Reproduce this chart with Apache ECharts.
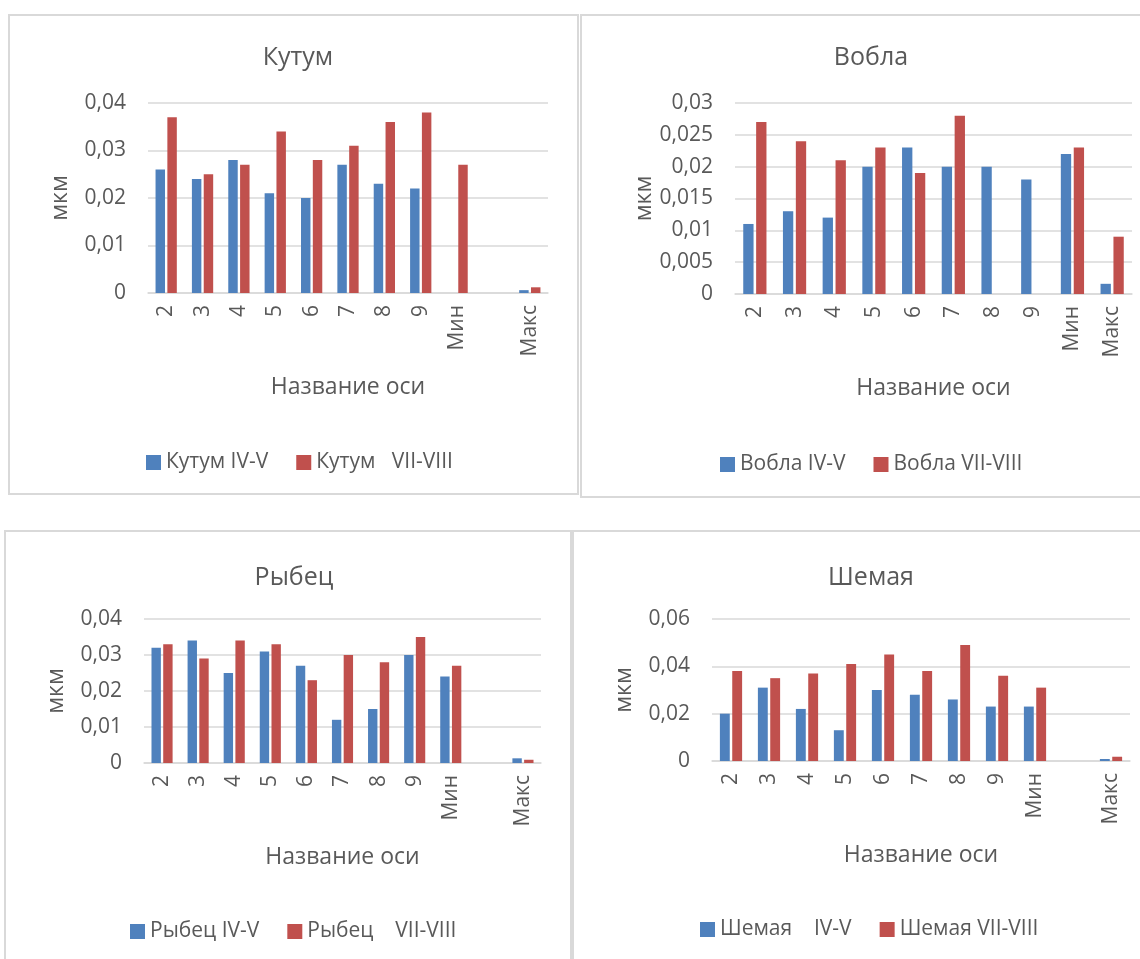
<!DOCTYPE html>
<html>
<head>
<meta charset="utf-8">
<script src="https://cdn.jsdelivr.net/npm/echarts@6/dist/echarts.min.js"></script>
<style>
  body { margin: 0; background: #fff; }
  #wrap { position: relative; width: 1140px; height: 959px; overflow: hidden; }
  .box { position: absolute; box-sizing: border-box; border: 2px solid #d9d9d9; }
  #chart { position: absolute; left: 0; top: 0; width: 1140px; height: 959px; }
</style>
</head>
<body>
<div id="wrap">
  <div class="box" style="left:8px;top:14px;width:571px;height:481px;"></div>
  <div class="box" style="left:580px;top:14px;width:570px;height:484px;"></div>
  <div class="box" style="left:4px;top:530px;width:568px;height:440px;"></div>
  <div class="box" style="left:572px;top:530px;width:580px;height:440px;"></div>
  <div id="chart"></div>
</div>
<script>
  // categories
  let cats = ['2', '3', '4', '5', '6', '7', '8', '9', 'Мин', '', 'Макс'];
  let catsVobla = ['2', '3', '4', '5', '6', '7', '8', '9', 'Мин', 'Макс'];

  // values, мкм
  let kutumIV = [0.026, 0.024, 0.028, 0.021, 0.020, 0.027, 0.023, 0.022, null, null, 0.0006];
  let kutumVII = [0.037, 0.025, 0.027, 0.034, 0.028, 0.031, 0.036, 0.038, 0.027, null, 0.0012];
  let voblaIV = [0.011, 0.013, 0.012, 0.020, 0.023, 0.020, 0.020, 0.018, 0.022, 0.0016];
  let voblaVII = [0.027, 0.024, 0.021, 0.023, 0.019, 0.028, null, null, 0.023, 0.009];
  let rybecIV = [0.032, 0.034, 0.025, 0.031, 0.027, 0.012, 0.015, 0.030, 0.024, null, 0.0013];
  let rybecVII = [0.033, 0.029, 0.034, 0.033, 0.023, 0.030, 0.028, 0.035, 0.027, null, 0.0009];
  let shemayaIV = [0.020, 0.031, 0.022, 0.013, 0.030, 0.028, 0.026, 0.023, 0.023, null, 0.00085];
  let shemayaVII = [0.038, 0.035, 0.037, 0.041, 0.045, 0.038, 0.049, 0.036, 0.031, null, 0.0018];

  let font = '"Open Sans", "Noto Sans", sans-serif';
  let txt = '#595959';
  let grey = '#d9d9d9';
  let blue = '#4f81bd';
  let red = '#c0504d';

  // one panel per fish
  let panels = [
    { title: 'Кутум', cats: cats, a: kutumIV, b: kutumVII, na: 'Кутум IV-V', nb: 'Кутум   VII-VIII',
      grid: { left: 148, top: 103, width: 400, height: 190 }, max: 0.04, step: 0.01,
      titleX: 293, titleY: 53, legX: 141, legY: 447 },
    { title: 'Вобла', cats: catsVobla, a: voblaIV, b: voblaVII, na: 'Вобла IV-V', nb: 'Вобла VII-VIII',
      grid: { left: 735, top: 103, width: 397, height: 191 }, max: 0.03, step: 0.005,
      titleX: 866, titleY: 53, legX: 715, legY: 449 },
    { title: 'Рыбец', cats: cats, a: rybecIV, b: rybecVII, na: 'Рыбец IV-V', nb: 'Рыбец    VII-VIII',
      grid: { left: 144, top: 619, width: 397, height: 144 }, max: 0.04, step: 0.01,
      titleX: 289, titleY: 573, legX: 125, legY: 916 },
    { title: 'Шемая', cats: cats, a: shemayaIV, b: shemayaVII, na: 'Шемая    IV-V', nb: 'Шемая VII-VIII',
      grid: { left: 712, top: 619, width: 418, height: 142 }, max: 0.06, step: 0.02,
      titleX: 866, titleY: 573, legX: 695, legY: 914 }
  ];

  let fmt = v => String(+v.toFixed(4)).replace('.', ',');

  let option = {
    animation: false,
    textStyle: { fontFamily: font },
    title: [], legend: [], grid: [], xAxis: [], yAxis: [], series: []
  };

  panels.forEach((p, i) => {
    option.title.push({
      text: p.title, left: p.titleX, top: p.titleY,
      textAlign: 'center', textVerticalAlign: 'middle',
      textStyle: { color: txt, fontSize: 25, fontWeight: 'normal', fontFamily: font }
    });
    option.legend.push({
      data: [p.na, p.nb], left: p.legX, top: p.legY,
      itemWidth: 15, itemHeight: 15, itemGap: 28, icon: 'rect',
      textStyle: { color: txt, fontSize: 21, fontFamily: font }
    });
    option.grid.push(p.grid);
    option.xAxis.push({
      type: 'category', gridIndex: i, data: p.cats,
      name: 'Название оси', nameLocation: 'middle', nameGap: 83,
      nameTextStyle: { color: txt, fontSize: 23, fontFamily: font },
      axisTick: { show: false },
      axisLine: { lineStyle: { color: grey, width: 1.5 } },
      axisLabel: { rotate: 90, interval: 0, margin: 12, color: txt, fontSize: 21, fontFamily: font }
    });
    option.yAxis.push({
      type: 'value', gridIndex: i, min: 0, max: p.max, interval: p.step,
      name: 'мкм', nameLocation: 'middle', nameGap: 76,
      nameTextStyle: { color: txt, fontSize: 23, fontFamily: font },
      axisLine: { show: false }, axisTick: { show: false },
      splitLine: { lineStyle: { color: grey, width: 1.5 } },
      axisLabel: { margin: 22, color: txt, fontSize: 21, fontFamily: font, formatter: fmt }
    });
    option.series.push({
      name: p.na, type: 'bar', xAxisIndex: i, yAxisIndex: i, data: p.a,
      barWidth: '26%', barGap: '25%',
      itemStyle: { color: blue }
    });
    option.series.push({
      name: p.nb, type: 'bar', xAxisIndex: i, yAxisIndex: i, data: p.b,
      barWidth: '26%', barGap: '25%',
      itemStyle: { color: red }
    });
  });

  let chart = echarts.init(document.getElementById('chart'));
  chart.setOption(option);
</script>
</body>
</html>
